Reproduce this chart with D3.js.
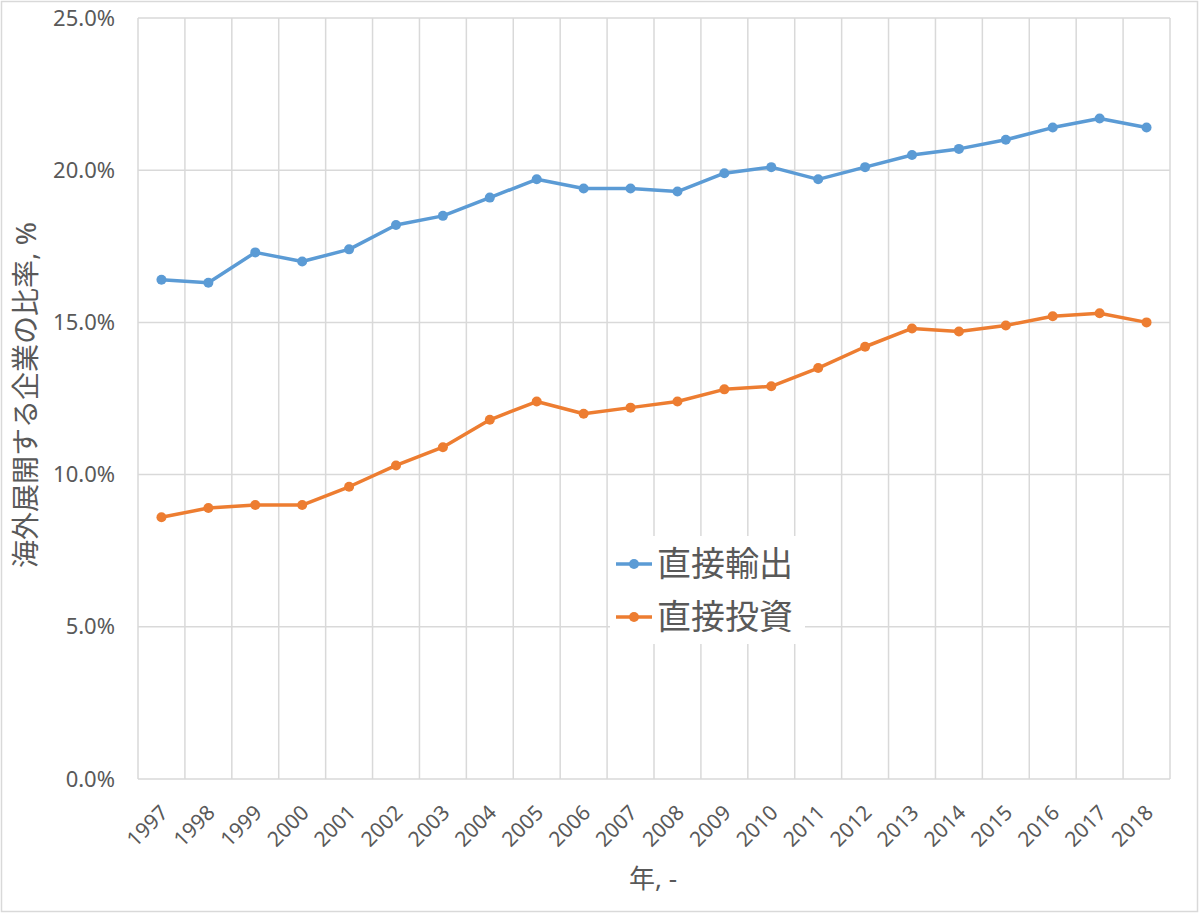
<!DOCTYPE html>
<html><head><meta charset="utf-8">
<script src="https://cdn.jsdelivr.net/npm/d3@7"></script>
<style>
html,body{margin:0;padding:0;background:#fff;}
text{font-family:"Noto Sans","Noto Sans CJK JP",sans-serif;fill:#595959;}
</style></head>
<body>
<svg id="c" width="1200" height="914"></svg>
<script>
const years = ["1997","1998","1999","2000","2001","2002","2003","2004","2005","2006","2007","2008","2009","2010","2011","2012","2013","2014","2015","2016","2017","2018"];
const directExport = [16.4,16.3,17.3,17.0,17.4,18.2,18.5,19.1,19.7,19.4,19.4,19.3,19.9,20.1,19.7,20.1,20.5,20.7,21.0,21.4,21.7,21.4];
const directInvest = [8.6,8.9,9.0,9.0,9.6,10.3,10.9,11.8,12.4,12.0,12.2,12.4,12.8,12.9,13.5,14.2,14.8,14.7,14.9,15.2,15.3,15.0];
const yTicks = [0,5,10,15,20,25];
const seriesNames = ["直接輸出","直接投資"];
const colors = ["#5B9BD5","#ED7D31"];

const FF = '"Noto Sans","Noto Sans CJK JP",sans-serif';
const svg = d3.select("#c");
const L=138,R=1170,T=18,B=779;
svg.append("rect").attr("x",1.5).attr("y",1.5).attr("width",1196).attr("height",910)
  .attr("fill","#fff").attr("stroke","#D9D9D9").attr("stroke-width",1.5);

const x = d3.scaleBand().domain(years).range([L,R]);
const y = d3.scaleLinear().domain([0,25]).range([B,T]);

// gridlines
const g = svg.append("g");
yTicks.forEach(t=>{
  g.append("line").attr("x1",L).attr("x2",R).attr("y1",y(t)).attr("y2",y(t))
   .attr("stroke","#D9D9D9").attr("stroke-width",1.5);
});
years.forEach(yr=>{
  g.append("line").attr("x1",x(yr)).attr("x2",x(yr)).attr("y1",T).attr("y2",B)
   .attr("stroke","#D9D9D9").attr("stroke-width",1.5);
});
g.append("line").attr("x1",R).attr("x2",R).attr("y1",T).attr("y2",B)
   .attr("stroke","#D9D9D9").attr("stroke-width",1.5);

// y axis labels
const yAxis = d3.axisLeft(y).tickValues(yTicks).tickSize(0).tickPadding(0)
  .tickFormat(d=>d3.format(".1f")(d)+"%");
const ya = svg.append("g").attr("transform",`translate(${115},0)`).call(yAxis);
ya.select(".domain").remove();
ya.selectAll("text").attr("font-size",22).attr("fill","#595959").style("font-family",FF);

// x axis labels
const xAxis = d3.axisBottom(x).tickSize(0).tickPadding(0);
const xa = svg.append("g").attr("transform",`translate(0,${B})`).call(xAxis);
xa.select(".domain").remove();
xa.selectAll("text").attr("font-size",21).attr("fill","#595959").style("font-family",FF)
  .attr("text-anchor","end").attr("dy",null).attr("y",null)
  .attr("transform","translate(8,35) rotate(-45)");

// titles
svg.append("text").attr("x",653).attr("y",888).attr("text-anchor","middle")
  .attr("font-size",26).text("年, -");
svg.append("text").attr("transform",`translate(26,395) rotate(-90)`)
  .attr("text-anchor","middle").attr("dy","0.35em").attr("font-size",28).text("海外展開する企業の比率, %");

// lines
const series = [directExport, directInvest];
const line = d3.line().x((d,i)=>x(years[i])+x.bandwidth()/2).y(d=>y(d));
series.forEach((s,k)=>{
  svg.append("path").datum(s).attr("d",line).attr("fill","none")
    .attr("stroke",colors[k]).attr("stroke-width",3.5).attr("stroke-linejoin","round");
  svg.selectAll(null).data(s).enter().append("circle")
    .attr("cx",(d,i)=>x(years[i])+x.bandwidth()/2).attr("cy",d=>y(d)).attr("r",5)
    .attr("fill",colors[k]);
});

// legend
const lg = svg.append("g");
lg.append("rect").attr("x",610).attr("y",536).attr("width",195).attr("height",108).attr("fill","#fff");
seriesNames.forEach((n,k)=>{
  const cy = 564 + k*53;
  lg.append("line").attr("x1",616).attr("x2",652).attr("y1",cy).attr("y2",cy)
    .attr("stroke",colors[k]).attr("stroke-width",3.5);
  lg.append("circle").attr("cx",634).attr("cy",cy).attr("r",5).attr("fill",colors[k]);
  lg.append("text").attr("x",657).attr("y",cy).attr("dy","0.36em").attr("font-size",34).text(n);
});
</script>
</body></html>
